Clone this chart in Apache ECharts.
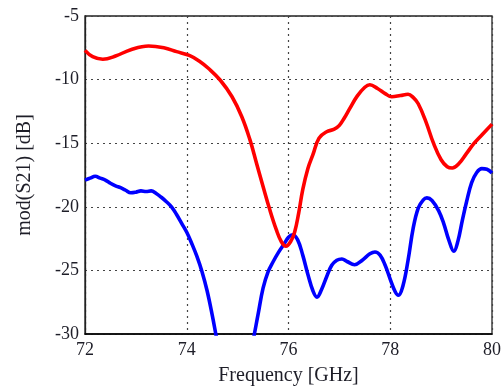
<!DOCTYPE html>
<html>
<head>
<meta charset="utf-8">
<script src="https://cdn.jsdelivr.net/npm/echarts@6/dist/echarts.min.js"></script>
<style>
  html, body { margin: 0; padding: 0; background: #fff; }
  #chart { width: 504px; height: 391px; }
</style>
</head>
<body>
<div id="chart"></div>
<script>
// Transmission |S21| vs frequency, two measured traces
const freqRed = [72.0, 72.15, 72.35, 72.6, 72.9, 73.25, 73.55, 73.8, 74.05, 74.25, 74.43, 74.66, 74.89, 75.08, 75.24, 75.37, 75.5, 75.63, 75.76, 75.86, 75.95, 76.04, 76.12, 76.2, 76.28, 76.38, 76.48, 76.6, 76.75, 76.9, 77.0, 77.1, 77.2, 77.35, 77.5, 77.6, 77.75, 77.9, 78.03, 78.2, 78.35, 78.45, 78.55, 78.7, 78.85, 79.0, 79.12, 79.22, 79.35, 79.5, 79.65, 79.8, 80.0];
const magRed = [-7.7, -8.2, -8.4, -8.15, -7.65, -7.36, -7.5, -7.8, -8.1, -8.55, -9.13, -10.05, -11.35, -12.9, -14.7, -16.55, -18.4, -20.2, -21.8, -22.75, -23.1, -22.75, -22.0, -20.5, -18.65, -17.0, -15.9, -14.6, -14.1, -13.9, -13.6, -13.0, -12.3, -11.3, -10.6, -10.4, -10.7, -11.1, -11.35, -11.25, -11.15, -11.4, -11.9, -13.3, -15.0, -16.3, -16.85, -16.95, -16.6, -15.8, -15.0, -14.35, -13.5];

const freqBlue = [72.0, 72.1, 72.2, 72.3, 72.4, 72.5, 72.6, 72.7, 72.8, 72.9, 73.0, 73.1, 73.2, 73.3, 73.4, 73.5, 73.6, 73.7, 73.8, 73.9, 74.0, 74.1, 74.2, 74.3, 74.4, 74.5, 74.6, 74.75, 74.95, 75.15, 75.3, 75.4, 75.5, 75.6, 75.7, 75.8, 75.9, 76.0, 76.08, 76.18, 76.28, 76.38, 76.48, 76.56, 76.65, 76.75, 76.85, 76.95, 77.05, 77.15, 77.3, 77.45, 77.6, 77.7, 77.8, 77.9, 78.0, 78.1, 78.16, 78.25, 78.35, 78.45, 78.55, 78.65, 78.72, 78.82, 78.95, 79.05, 79.15, 79.25, 79.33, 79.42, 79.5, 79.6, 79.7, 79.8, 79.9, 80.0];
const magBlue = [-17.9, -17.75, -17.6, -17.75, -17.9, -18.15, -18.35, -18.5, -18.7, -18.9, -18.85, -18.75, -18.8, -18.75, -18.95, -19.25, -19.6, -20.0, -20.6, -21.3, -22.0, -22.9, -23.9, -25.1, -26.6, -28.5, -30.6, -33.5, -35.0, -33.5, -30.6, -28.5, -26.4, -25.1, -24.3, -23.6, -23.0, -22.4, -22.2, -22.6, -23.8, -25.3, -26.6, -27.1, -26.5, -25.5, -24.6, -24.2, -24.1, -24.3, -24.55, -24.2, -23.7, -23.55, -23.8, -24.6, -25.7, -26.7, -26.95, -26.2, -24.2, -21.7, -20.1, -19.45, -19.3, -19.5, -20.3, -21.3, -22.6, -23.5, -22.7, -21.0, -19.6, -18.1, -17.3, -17.0, -17.05, -17.35];

const xTicks = [72, 74, 76, 78, 80];
const yTicks = [-30, -25, -20, -15, -10, -5];

const pairs = (xs, ys) => xs.map((x, i) => [x, ys[i]]);
const serif = 'Liberation Serif';
const textColor = '#1e1e28';
const gridLine = { show: true, lineStyle: { color: '#444', type: [2, 4], width: 1.2 } };

const chart = echarts.init(document.getElementById('chart'), null, { renderer: 'canvas' });
chart.setOption({
  animation: false,
  backgroundColor: '#fff',
  grid: {
    left: 85, right: 7, top: 16, bottom: 56,
    show: true, borderColor: '#222', borderWidth: 1.3, backgroundColor: 'transparent'
  },
  xAxis: {
    type: 'value',
    min: xTicks[0], max: xTicks[xTicks.length - 1], interval: 2,
    name: 'Frequency [GHz]',
    nameLocation: 'middle', nameGap: 32,
    nameTextStyle: { fontFamily: serif, fontSize: 20, color: textColor },
    axisLine: { show: true, lineStyle: { color: '#000', width: 1.5 } },
    axisTick: { show: false },
    axisLabel: { fontFamily: serif, fontSize: 18, color: textColor, margin: 7 },
    splitLine: gridLine
  },
  yAxis: {
    type: 'value',
    min: yTicks[0], max: yTicks[yTicks.length - 1], interval: 5,
    name: 'mod(S21) [dB]',
    nameLocation: 'middle', nameGap: 50,
    nameTextStyle: { fontFamily: serif, fontSize: 20, color: textColor },
    axisLine: { show: true, lineStyle: { color: '#222', width: 1.3 } },
    axisTick: { show: false },
    axisLabel: { fontFamily: serif, fontSize: 18, color: textColor, margin: 6 },
    splitLine: gridLine
  },
  series: [
    {
      type: 'line', data: pairs(freqRed, magRed), smooth: 0.4,
      showSymbol: false, clip: true,
      lineStyle: { color: '#ff0000', width: 3.6 }, z: 3
    },
    {
      type: 'line', data: pairs(freqBlue, magBlue), smooth: 0.4,
      showSymbol: false, clip: true,
      lineStyle: { color: '#0000ff', width: 3.6 }, z: 2
    }
  ]
});
</script>
</body>
</html>
